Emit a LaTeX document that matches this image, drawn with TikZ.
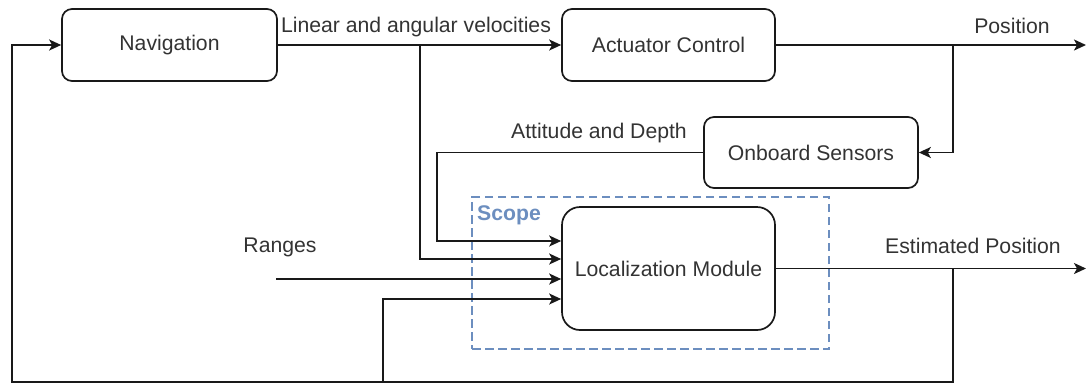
\documentclass[tikz,border=0pt]{standalone}
\usepackage{fontspec}
\setmainfont{Liberation Sans}
\usetikzlibrary{arrows.meta}
\definecolor{txt}{HTML}{333333}
\definecolor{scopeblue}{HTML}{6C8EBF}
\begin{document}
\begin{tikzpicture}[x=1pt,y=-1pt,
  font=\fontsize{21.2}{25}\selectfont,
  block/.style={draw=black!90, line width=1.7pt, rounded corners=10pt, text=txt, inner sep=0pt},
  conn/.style={draw=black!90, line width=1.7pt, -{Stealth[length=12pt,width=11pt,inset=3pt]}},
  lbl/.style={text=txt, inner sep=0pt},
  scopebox/.style={draw=scopeblue, line width=2.2pt, dash pattern=on 8.5pt off 4.5pt, inner sep=0pt}]
\useasboundingbox (0,0) rectangle (1087,384);

\node[scopebox, minimum width=357pt, minimum height=152pt] (scope) at (650.5,273) {};
\node[lbl, text=scopeblue, font=\fontsize{21.2}{25}\selectfont\bfseries] (scopelbl) at (509,215) {Scope};

\node[block, minimum width=215pt, minimum height=72pt] (nav) at (169.5,45) {Navigation};
\node[block, minimum width=213pt, minimum height=72pt] (act) at (668.5,45) {Actuator Control};
\node[block, minimum width=214pt, minimum height=71pt] (obs) at (811,152.5) {Onboard Sensors};
\node[block, rounded corners=18pt, minimum width=213pt, minimum height=123pt] (loc) at (668.5,268.5) {Localization Module};

\node[lbl] (lvel) at (416,27) {Linear and angular velocities};
\node[lbl] (lpos) at (1012,26) {Position};
\node[lbl] (latt) at (599,133) {Attitude and Depth};
\node[lbl] (lrng) at (280,247) {Ranges};
\node[lbl] (lest) at (973,246) {Estimated Position};

\coordinate (posout) at (1086,45);
\coordinate (estout) at (1086,268.5);
\coordinate (j1) at (953,45);
\coordinate (j2) at (420,45);
\coordinate (j3) at (953,268.5);
\coordinate (bl) at (12,382);
\coordinate (j4) at (383,382);
\coordinate (a1) at (437,241);
\coordinate (v1) at (420,259);
\coordinate (rng) at (276,279);
\coordinate (f1) at (383,299);

\draw[conn] (nav.east) -- (act.west);
\draw[conn] (act.east) -- (posout);
\draw[conn] (j1) |- (obs.east);
\draw[conn] (obs.west) -| (a1) -- (a1 -| loc.west);
\draw[conn] (j2) -- (v1) -- (v1 -| loc.west);
\draw[conn] (rng) -- (rng -| loc.west);
\draw[conn] (loc.east) -- (estout);
\draw[conn] (j3) |- (bl) |- (nav.west);
\draw[conn] (j4) -- (f1) -- (f1 -| loc.west);
\end{tikzpicture}
\end{document}
